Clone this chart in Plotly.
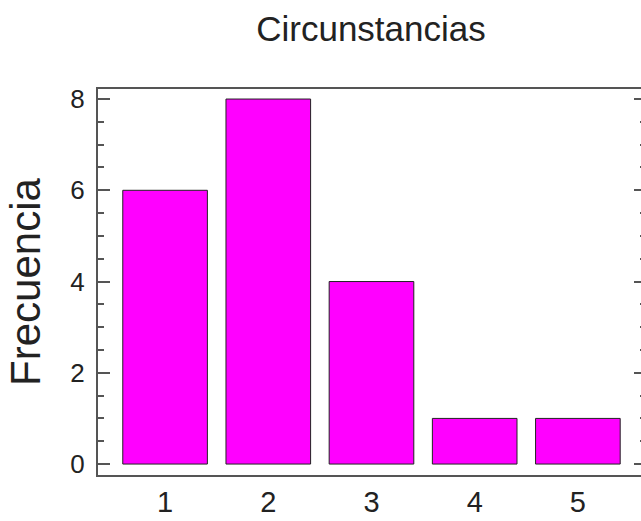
import plotly.graph_objects as go

categories = [1, 2, 3, 4, 5]
frecuencia = [6, 8, 4, 1, 1]
y_ticks = [0, 2, 4, 6, 8]

fig = go.Figure()
fig.add_trace(go.Bar(
    x=categories, y=frecuencia, width=0.82,
    marker=dict(color="#FF00FF", line=dict(color="#222222", width=1)),
))

axis_col = "#555555"
fig.update_layout(
    template="none",
    width=646, height=521,
    margin=dict(l=98, r=0, t=89, b=46, autoexpand=False),
    paper_bgcolor="white", plot_bgcolor="white",
    showlegend=False,
    font=dict(family="Liberation Sans, Arial, sans-serif", color="#222222"),
    title=dict(text="Circunstancias", x=371 / 646, xanchor="center", y=0.945, yanchor="middle",
               font=dict(size=35, family="Liberation Sans, Arial")),
    xaxis=dict(range=[0.35, 5.66], tickvals=categories, ticktext=[str(c) for c in categories],
               showgrid=False, zeroline=False, showline=True, linecolor=axis_col, linewidth=2,
               mirror=True, ticks="", tickfont=dict(size=29), ticklabelstandoff=0,
               automargin=False),
    yaxis=dict(range=[-0.24, 8.22], tickvals=y_ticks, showgrid=False, zeroline=False,
               showline=True, linecolor=axis_col, linewidth=2, mirror="allticks",
               ticks="inside", ticklen=12, tickcolor=axis_col, tickwidth=2,
               minor=dict(dtick=0.5, ticks="inside", ticklen=6, tickcolor=axis_col, tickwidth=2),
               tickfont=dict(size=26), ticklabelstandoff=6, automargin=False,
               title=dict(text="Frecuencia", font=dict(size=42), standoff=17)),
)

fig.write_html("out.html", config={"displayModeBar": False},
               post_script="document.body.style.margin='0';document.body.style.overflow='hidden';"
               "document.documentElement.style.overflow='hidden';")
